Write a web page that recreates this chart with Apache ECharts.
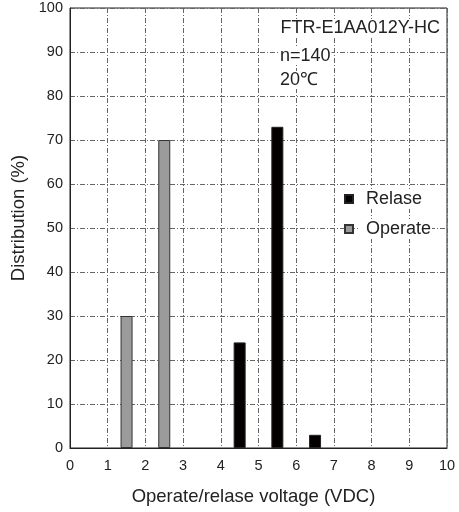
<!DOCTYPE html>
<html>
<head>
<meta charset="utf-8">
<script src="https://cdn.jsdelivr.net/npm/echarts@6/dist/echarts.min.js"></script>
<style>
  html, body { margin: 0; padding: 0; background: #fff; }
  #m1 { width: 459px; height: 512px; }
</style>
</head>
<body>
<div id="m1"></div>
<script>
// data
var voltages = [0, 1, 2, 3, 4, 5, 6, 7, 8, 9, 10];
var operateX = [1.5, 2.5];
var operateY = [30, 70];
var relaseX = [4.5, 5.5, 6.5];
var relaseY = [24, 73, 3];
var noteLines = ['FTR-E1AA012Y-HC', 'n=140', '20℃'];

function pairs(xs, ys) {
    var out = [];
    for (var i = 0; i < xs.length; i++) out.push([xs[i], ys[i]]);
    return out;
}

var font = '"Liberation Sans", Arial, sans-serif';
var gridLine = { show: true, lineStyle: { color: '#666', width: 1, type: [5, 2, 1, 2] } };

function note(txt, x, y, align) {
    return {
        type: 'text', x: x, y: y, z: 100,
        style: {
            text: txt, font: '18px ' + font, fill: '#222',
            align: align, verticalAlign: 'middle',
            backgroundColor: '#fff', padding: [0, 1]
        }
    };
}

var myChart = echarts.init(document.getElementById('m1'));
var option = {
    animation: false,
    textStyle: { fontFamily: font },
    grid: {
        left: 70, right: 12, top: 8, bottom: 64,
        outerBoundsMode: 'none', containLabel: false,
        show: true, borderColor: '#222', borderWidth: 1
    },
    legend: {
        data: ['Relase', 'Operate'],
        orient: 'vertical',
        left: 339,
        top: 184,
        z: 100,
        itemWidth: 8,
        itemHeight: 8,
        itemGap: 10,
        icon: 'rect',
        textStyle: { fontSize: 18, color: '#222', backgroundColor: '#fff', padding: [0, 1, 0, 8], lineHeight: 20 }
    },
    xAxis: {
        type: 'value',
        min: 0, max: 10, interval: 1,
        name: 'Operate/relase voltage (VDC)',
        nameLocation: 'middle',
        nameGap: 39,
        nameTextStyle: { fontSize: 18.5, color: '#222', padding: [0, 10, 0, 0] },
        axisLine: { show: true, lineStyle: { color: '#222' } },
        axisTick: { show: false },
        axisLabel: { fontSize: 14.5, color: '#222', margin: 10 },
        splitLine: gridLine
    },
    yAxis: {
        type: 'value',
        min: 0, max: 100, interval: 10,
        name: 'Distribution (%)',
        nameLocation: 'middle',
        nameGap: 40,
        nameTextStyle: { fontSize: 18.5, color: '#222', padding: [0, 0, 0, 20] },
        axisLine: { show: true, lineStyle: { color: '#222' } },
        axisTick: { show: false },
        axisLabel: { fontSize: 14.5, color: '#222', margin: 7 },
        splitLine: gridLine
    },
    graphic: [
        note(noteLines[0], 441, 28, 'right'),
        note(noteLines[1], 279, 56, 'left'),
        note(noteLines[2], 279, 80, 'left')
    ],
    series: [
        {
            name: 'Relase',
            type: 'bar',
            barWidth: 12,
            barGap: '-100%',
            itemStyle: { color: '#050000', borderColor: '#222', borderWidth: 1 },
            data: pairs(relaseX, relaseY)
        },
        {
            name: 'Operate',
            type: 'bar',
            barWidth: 12,
            barGap: '-100%',
            itemStyle: { color: '#9b9b9b', borderColor: '#333', borderWidth: 1 },
            data: pairs(operateX, operateY)
        }
    ]
};
myChart.setOption(option);
</script>
</body>
</html>
